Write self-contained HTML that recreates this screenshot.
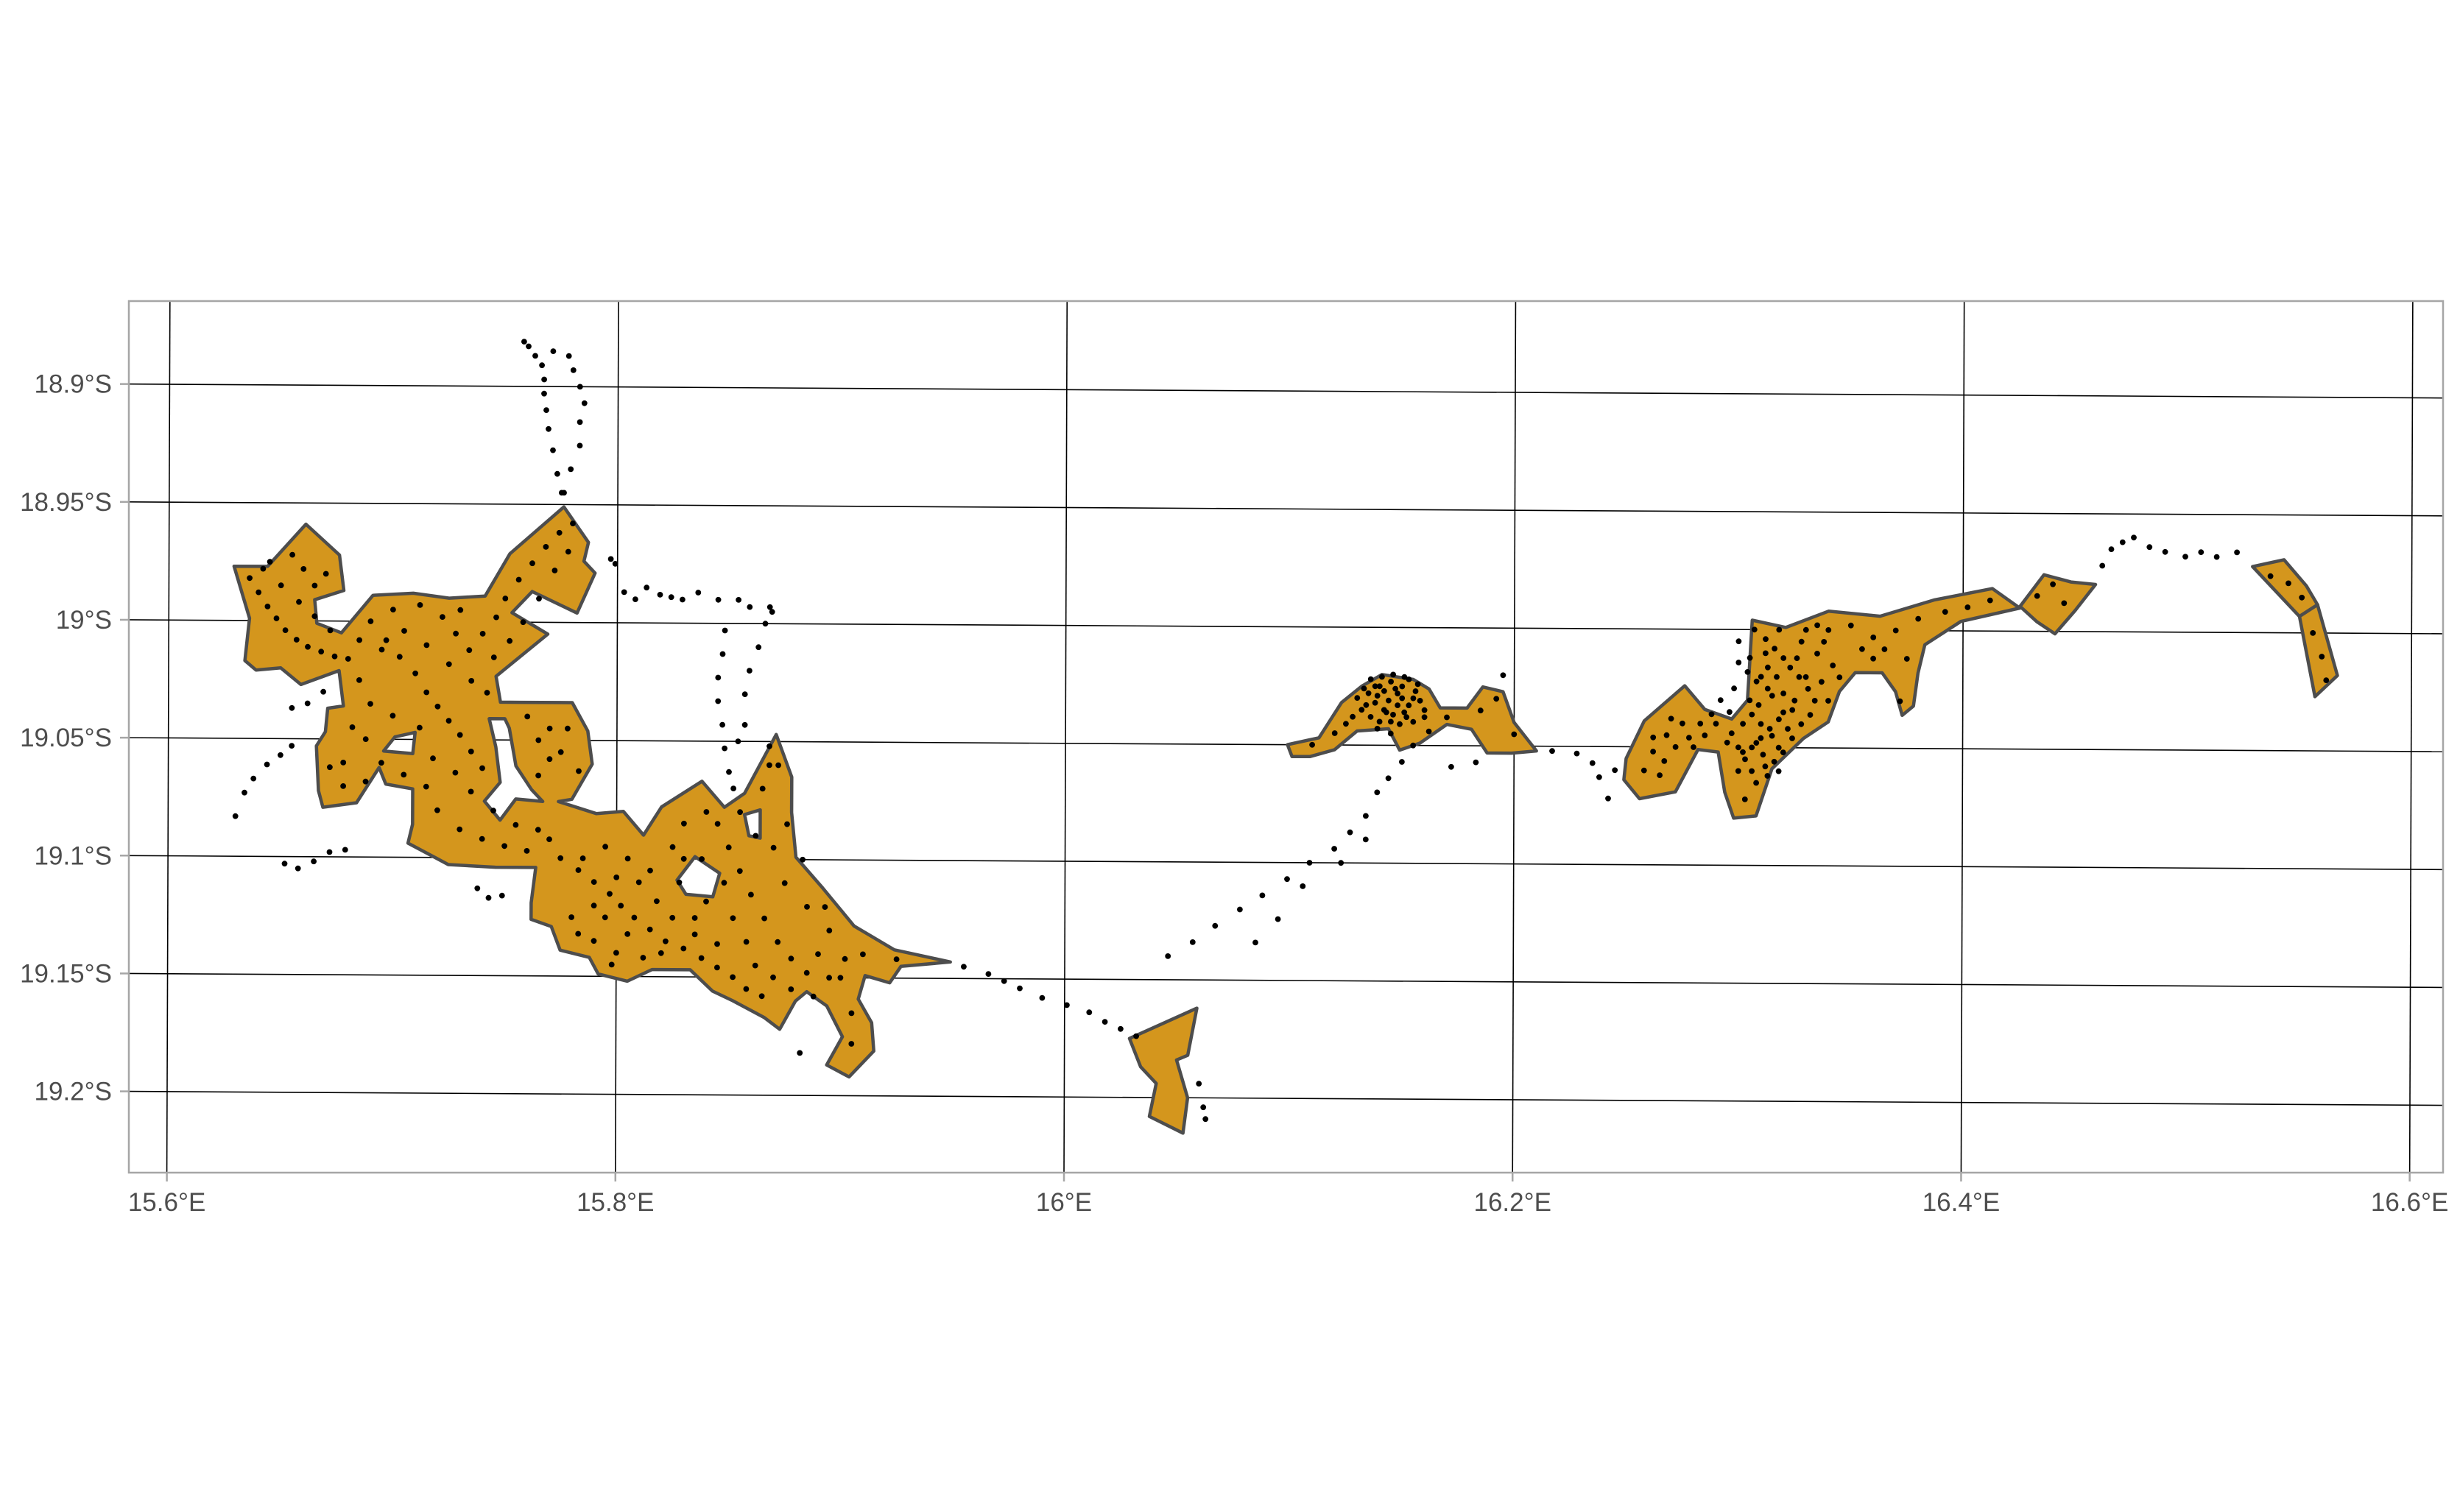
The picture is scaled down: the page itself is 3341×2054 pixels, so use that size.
<!DOCTYPE html>
<html>
<head>
<meta charset="utf-8">
<style>
html,body{margin:0;padding:0;background:#fff;}
svg{display:block;}
text{font-family:"Liberation Sans",Arial,sans-serif;fill:#4d4d4d;}
</style>
</head>
<body>
<svg id="chart" width="3341" height="2054" viewBox="0 0 3341 2054" xmlns="http://www.w3.org/2000/svg">
<defs><clipPath id="panelClip"><rect x="175" y="409" width="3143" height="1184"/></clipPath></defs>
<rect x="0" y="0" width="3341" height="2054" fill="#fff"/>
<g id="grid" clip-path="url(#panelClip)"></g>
<g id="polys" clip-path="url(#panelClip)"></g>
<g id="pts" clip-path="url(#panelClip)"></g>
<rect x="175" y="409" width="3143" height="1184" fill="none" stroke="#a6a6a6" stroke-width="2.5"/>
<g id="axes"></g>
</svg>
<script>
const lonTicks = [15.6, 15.8, 16.0, 16.2, 16.4, 16.6];
const lonLabels = ["15.6°E", "15.8°E", "16°E", "16.2°E", "16.4°E", "16.6°E"];
const latTicks = [18.9, 18.95, 19.0, 19.05, 19.1, 19.15, 19.2];
const latLabels = ["18.9°S", "18.95°S", "19°S", "19.05°S", "19.1°S", "19.15°S", "19.2°S"];

const polyWest = [[15.629,18.977],[15.644,18.977],[15.661,18.959],[15.676,18.972],[15.678,18.987],[15.665,18.991],[15.666,19.001],[15.677,19.005],[15.691,18.989],[15.709,18.988],[15.725,18.990],[15.741,18.989],[15.752,18.971],[15.776,18.951],[15.787,18.966],[15.785,18.974],[15.790,18.979],[15.782,18.996],[15.762,18.987],[15.753,18.996],[15.769,19.005],[15.746,19.023],[15.748,19.034],[15.757,19.034],[15.780,19.034],[15.787,19.046],[15.789,19.060],[15.780,19.075],[15.774,19.076],[15.791,19.081],[15.803,19.080],[15.812,19.090],[15.820,19.078],[15.838,19.067],[15.848,19.078],[15.857,19.072],[15.871,19.047],[15.878,19.065],[15.878,19.080],[15.880,19.099],[15.892,19.112],[15.906,19.128],[15.924,19.138],[15.949,19.143],[15.927,19.145],[15.922,19.152],[15.911,19.149],[15.908,19.159],[15.914,19.169],[15.915,19.181],[15.904,19.192],[15.894,19.187],[15.901,19.175],[15.894,19.162],[15.885,19.156],[15.880,19.160],[15.873,19.172],[15.866,19.167],[15.852,19.160],[15.843,19.156],[15.833,19.147],[15.816,19.147],[15.805,19.152],[15.792,19.149],[15.788,19.142],[15.775,19.139],[15.771,19.129],[15.762,19.126],[15.762,19.119],[15.764,19.104],[15.746,19.104],[15.725,19.103],[15.721,19.101],[15.707,19.094],[15.709,19.086],[15.709,19.071],[15.697,19.069],[15.694,19.062],[15.684,19.077],[15.669,19.079],[15.667,19.072],[15.666,19.053],[15.670,19.047],[15.671,19.037],[15.678,19.036],[15.676,19.021],[15.659,19.027],[15.650,19.020],[15.639,19.021],[15.634,19.017],[15.636,18.999]];
const holeA = [[15.696,19.055],[15.701,19.049],[15.710,19.047],[15.709,19.056]];
const holeB = [[15.827,19.109],[15.835,19.099],[15.846,19.106],[15.843,19.116],[15.831,19.115]];
const holeC = [[15.857,19.081],[15.864,19.079],[15.864,19.091],[15.859,19.090]];
const holeD = [[15.743,19.041],[15.750,19.041],[15.752,19.045],[15.755,19.061],[15.762,19.071],[15.767,19.076],[15.755,19.075],[15.748,19.084],[15.741,19.076],[15.748,19.068],[15.746,19.053]];
const polySouth = [[16.029,19.175],[16.059,19.162],[16.055,19.182],[16.050,19.184],[16.055,19.200],[16.053,19.215],[16.038,19.208],[16.041,19.194],[16.034,19.187]];
const polyMiddle = [[16.099,19.050],[16.113,19.047],[16.123,19.032],[16.132,19.025],[16.141,19.020],[16.155,19.022],[16.162,19.026],[16.167,19.034],[16.179,19.034],[16.186,19.025],[16.195,19.027],[16.200,19.040],[16.210,19.052],[16.199,19.053],[16.188,19.053],[16.181,19.043],[16.170,19.041],[16.158,19.049],[16.149,19.052],[16.144,19.043],[16.130,19.044],[16.120,19.052],[16.109,19.055],[16.101,19.055]];
const polyEast = [[16.250,19.055],[16.258,19.039],[16.276,19.024],[16.285,19.034],[16.297,19.038],[16.304,19.030],[16.306,18.996],[16.321,18.999],[16.340,18.992],[16.363,18.994],[16.387,18.987],[16.413,18.982],[16.425,18.990],[16.436,18.976],[16.448,18.979],[16.459,18.980],[16.450,18.991],[16.441,19.001],[16.433,18.996],[16.426,18.990],[16.399,18.996],[16.383,19.006],[16.380,19.018],[16.378,19.032],[16.373,19.036],[16.370,19.026],[16.364,19.018],[16.352,19.018],[16.345,19.026],[16.340,19.039],[16.329,19.046],[16.315,19.059],[16.308,19.079],[16.298,19.080],[16.294,19.069],[16.291,19.052],[16.282,19.051],[16.272,19.069],[16.256,19.072],[16.249,19.064]];
const polyFarTop = [[16.529,18.972],[16.543,18.969],[16.553,18.980],[16.558,18.988],[16.550,18.993]];
const polyFarLow = [[16.550,18.993],[16.558,18.988],[16.567,19.018],[16.557,19.027]];

const trailPts = [[15.758,18.881],[15.760,18.883],[15.763,18.887],[15.766,18.891],[15.767,18.897],[15.767,18.903],[15.768,18.910],[15.769,18.918],[15.771,18.927],[15.773,18.937],[15.775,18.945],[15.771,18.885],[15.778,18.887],[15.780,18.893],[15.783,18.900],[15.785,18.907],[15.783,18.915],[15.783,18.925],[15.779,18.935],[15.776,18.945],
[15.797,18.973],[15.799,18.975],[15.803,18.987],[15.808,18.990],[15.813,18.985],[15.819,18.988],[15.824,18.989],[15.829,18.990],[15.836,18.987],[15.845,18.990],[15.854,18.990],[15.859,18.993],[15.868,18.993],[15.869,18.995],
[15.848,19.003],[15.847,19.013],[15.845,19.023],[15.845,19.033],[15.847,19.043],[15.848,19.053],[15.850,19.063],[15.852,19.070],[15.866,19.000],[15.863,19.010],[15.859,19.020],[15.857,19.030],[15.857,19.043],[15.854,19.050],
[15.630,19.083],[15.634,19.073],[15.638,19.067],[15.644,19.061],[15.650,19.057],[15.655,19.053],[15.652,19.103],[15.658,19.105],[15.665,19.102],[15.672,19.098],[15.679,19.097],[15.655,19.037],[15.662,19.035],[15.669,19.030],
[15.738,19.113],[15.743,19.117],[15.749,19.116],[15.882,19.182],
[15.955,19.145],[15.966,19.148],[15.973,19.151],[15.980,19.154],[15.990,19.158],[16.001,19.161],[16.011,19.164],[16.018,19.168],[16.025,19.171],[16.032,19.174],
[16.060,19.194],[16.062,19.204],[16.063,19.209],
[16.046,19.140],[16.057,19.134],[16.067,19.127],[16.078,19.120],[16.088,19.114],[16.099,19.107],[16.109,19.100],[16.120,19.094],[16.127,19.087],[16.134,19.080],[16.139,19.070],[16.144,19.064],[16.150,19.057],[16.155,19.050],
[16.085,19.134],[16.095,19.124],[16.106,19.110],[16.123,19.100],[16.134,19.090],
[16.172,19.059],[16.183,19.057],[16.195,19.020],[16.217,19.052],[16.228,19.053],[16.235,19.057],[16.242,19.072],[16.238,19.063],[16.245,19.060],
[16.462,18.972],[16.466,18.965],[16.471,18.962],[16.476,18.960],[16.483,18.964],[16.490,18.966],[16.499,18.968],[16.506,18.966],[16.513,18.968],[16.522,18.966]];

const innerPts = [[15.636,18.982],[15.640,18.988],[15.644,18.994],[15.648,18.999],[15.652,19.004],[15.657,19.008],[15.662,19.011],[15.668,19.013],[15.674,19.015],[15.680,19.016],[15.655,18.972],[15.660,18.978],[15.665,18.985],[15.670,18.980],[15.645,18.975],
[15.690,19.000],[15.697,19.008],[15.703,19.015],[15.710,19.022],[15.715,19.030],[15.720,19.036],[15.725,19.042],[15.730,19.048],[15.735,19.055],[15.740,19.062],
[15.722,18.998],[15.728,19.005],[15.734,19.012],[15.740,19.005],[15.746,18.998],[15.750,18.990],[15.756,18.982],[15.762,18.975],[15.768,18.968],[15.774,18.962],[15.780,18.958],
[15.685,19.025],[15.690,19.035],[15.682,19.045],[15.678,19.060],[15.688,19.068],[15.700,19.040],[15.712,19.045],
[15.715,19.070],[15.720,19.080],[15.730,19.088],[15.740,19.092],[15.750,19.095],[15.760,19.097],[15.770,19.092],
[15.760,19.040],[15.765,19.050],[15.770,19.058],[15.778,19.045],[15.783,19.063],
[15.775,19.100],[15.783,19.105],[15.790,19.110],[15.797,19.115],[15.802,19.120],[15.808,19.125],[15.815,19.130],[15.822,19.135],[15.830,19.138],[15.838,19.142],[15.845,19.146],[15.852,19.150],[15.858,19.155],[15.865,19.158],
[15.780,19.125],[15.790,19.135],[15.800,19.140],[15.812,19.142],[15.795,19.095],[15.805,19.100],[15.815,19.105],[15.825,19.095],[15.830,19.085],[15.845,19.085],[15.850,19.095],[15.855,19.105],[15.860,19.115],[15.866,19.125],[15.872,19.135],[15.878,19.142],[15.885,19.148],[15.890,19.140],[15.895,19.130],[15.885,19.120],[15.875,19.110],[15.870,19.095],[15.865,19.070],[15.868,19.060],[15.825,19.125],[15.835,19.125],[15.840,19.118],[15.900,19.150],[15.905,19.165],[15.905,19.178],[15.910,19.140],[15.925,19.142],
[15.642,18.978],[15.650,18.985],[15.658,18.992],[15.665,18.998],[15.672,19.004],[15.685,19.008],[15.695,19.012],[15.705,19.004],[15.715,19.010],[15.725,19.018],[15.735,19.025],[15.742,19.030],[15.745,19.015],[15.752,19.008],[15.758,19.000],[15.765,18.990],[15.772,18.978],[15.778,18.970],[15.700,18.995],[15.712,18.993],[15.730,18.995],[15.688,19.050],[15.695,19.060],[15.705,19.065],[15.718,19.058],[15.728,19.064],[15.735,19.072],[15.745,19.080],[15.755,19.086],[15.765,19.088],[15.678,19.070],[15.672,19.062],[15.770,19.045],[15.775,19.055],[15.765,19.065],[15.785,19.100],[15.795,19.125],[15.805,19.132],[15.818,19.118],[15.828,19.110],[15.838,19.100],[15.848,19.110],[15.852,19.125],[15.858,19.135],[15.862,19.145],[15.870,19.150],[15.878,19.155],[15.888,19.158],[15.895,19.150],[15.902,19.142],[15.893,19.120],[15.883,19.100],[15.876,19.085],[15.862,19.090],[15.855,19.080],[15.840,19.080],[15.830,19.100],[15.810,19.110],[15.800,19.108],[15.790,19.120],[15.783,19.132],[15.798,19.145],[15.820,19.140],[15.835,19.132],[15.845,19.136],[15.872,19.060],[15.868,19.052],
[16.135,19.028],[16.140,19.025],[16.145,19.023],[16.150,19.025],[16.155,19.030],[16.148,19.033],[16.142,19.035],[16.138,19.032],[16.132,19.035],[16.152,19.038],[16.145,19.040],[16.160,19.035],[16.120,19.045],[16.110,19.050],[16.170,19.038],[16.185,19.035],[16.192,19.030],[16.200,19.045],[16.148,19.028],[16.153,19.022],
[16.130,19.030],[16.133,19.026],[16.136,19.022],[16.139,19.029],[16.142,19.027],[16.144,19.031],[16.147,19.026],[16.150,19.030],[16.153,19.033],[16.156,19.027],[16.158,19.031],[16.136,19.038],[16.140,19.040],[16.143,19.036],[16.146,19.037],[16.149,19.041],[16.151,19.036],[16.155,19.040],[16.134,19.033],[16.138,19.025],[16.141,19.021],[16.146,19.020],[16.151,19.021],[16.157,19.024],[16.160,19.038],[16.128,19.038],[16.125,19.041],[16.162,19.044],[16.145,19.045],[16.139,19.043],
[16.300,19.005],[16.305,19.012],[16.310,19.020],[16.315,19.028],[16.320,19.035],[16.322,19.042],[16.318,19.050],[16.312,19.058],[16.308,19.065],[16.303,19.072],[16.300,19.060],[16.295,19.048],[16.290,19.040],[16.285,19.045],[16.280,19.050],[16.275,19.040],[16.268,19.045],[16.262,19.052],[16.258,19.060],[16.265,19.062],[16.310,19.040],[16.315,19.045],[16.325,19.030],[16.330,19.020],[16.335,19.010],[16.328,19.005],[16.318,19.000],[16.312,19.010],[16.305,19.030],[16.298,19.025],[16.308,19.048],[16.302,19.052],[16.326,19.012],[16.340,19.000],[16.350,18.998],[16.360,19.003],[16.370,19.000],[16.380,18.995],[16.392,18.992],[16.402,18.990],[16.412,18.987],[16.360,19.012],[16.345,19.020],[16.372,19.030],[16.340,19.030],[16.433,18.985],[16.440,18.980],[16.445,18.988],[16.537,18.976],[16.545,18.979],[16.551,18.985],[16.556,19.000],[16.560,19.010],[16.562,19.020],
[16.307,19.000],[16.312,19.004],[16.316,19.008],[16.320,19.012],[16.323,19.016],[16.327,19.020],[16.331,19.025],[16.334,19.030],[16.332,19.036],[16.328,19.040],[16.324,19.046],[16.320,19.052],[16.316,19.056],[16.313,19.062],[16.306,19.060],[16.303,19.055],[16.300,19.050],[16.297,19.044],[16.302,19.040],[16.306,19.036],[16.309,19.032],[16.313,19.025],[16.317,19.020],[16.313,19.016],[16.308,19.022],[16.304,19.018],[16.300,19.014],[16.320,19.027],[16.324,19.034],[16.318,19.038],[16.314,19.042],[16.310,19.046],[16.306,19.050],[16.311,19.053],[16.318,19.060],[16.296,19.035],[16.292,19.030],[16.288,19.036],[16.283,19.040],[16.278,19.046],[16.272,19.050],[16.267,19.056],[16.262,19.046],[16.270,19.038],[16.337,19.022],[16.342,19.015],[16.338,19.005],[16.335,18.998],[16.330,19.000],[16.355,19.008],[16.365,19.008],[16.375,19.012]];

const NS = "http://www.w3.org/2000/svg";
function X(lon, lat){ return 230.4 + (lon-15.6)*3046 - (lat-18.9)*11.4; }
function Y(lon, lat){ return 522 + (lat-18.9)*3203 + (lon-15.6)*18.4; }
function mk(tag, attrs, parent){ const e=document.createElementNS(NS,tag); for(const k in attrs) e.setAttribute(k,attrs[k]); parent.appendChild(e); return e; }

const grid=document.getElementById('grid'), axes=document.getElementById('axes');
const lonL=15.56, lonR=16.64, latT=18.85, latB=19.25;
latTicks.forEach((lat,i)=>{
  const l=mk('line',{x1:X(lonL,lat),y1:Y(lonL,lat),x2:X(lonR,lat),y2:Y(lonR,lat),stroke:'#000','stroke-width':1.6},grid);
  
  
  const lonA=15.6+(175-230.4)/3046; const y=Y(lonA,lat);
  const t=mk('line',{x1:163,y1:y,x2:175,y2:y,stroke:'#a6a6a6','stroke-width':2.5},axes);
  
  
  const tx=mk('text',{x:152,y:y+12,'text-anchor':'end','font-size':35},axes);
  tx.textContent=latLabels[i];
  
  
});
lonTicks.forEach((lon,i)=>{
  const l=mk('line',{x1:X(lon,latT),y1:Y(lon,latT),x2:X(lon,latB),y2:Y(lon,latB),stroke:'#000','stroke-width':1.6},grid);
  
  
  const latA=18.9+(1593-522-(lon-15.6)*18.4)/3203; const x=X(lon,latA);
  const t=mk('line',{x1:x,y1:1593,x2:x,y2:1605,stroke:'#a6a6a6','stroke-width':2.5},axes);
  
  
  const tx=mk('text',{x:x,y:1645,'text-anchor':'middle','font-size':35},axes);
  tx.textContent=lonLabels[i];
  
  
});

const polys=document.getElementById('polys');
function ring(arr){ return 'M'+arr.map(p=>X(p[0],p[1]).toFixed(1)+','+Y(p[0],p[1]).toFixed(1)).join('L')+'Z'; }
const polyList=[['west-range',[polyWest,holeA,holeB,holeC,holeD]],['south-range',[polySouth]],['middle-range',[polyMiddle]],['east-range',[polyEast]],['far-east-range-top',[polyFarTop]],['far-east-range-bottom',[polyFarLow]]];
polyList.forEach(pl=>{
  const p=mk('path',{d:pl[1].map(ring).join(' '),fill:'#d4961d','fill-rule':'evenodd',stroke:'#4d4d4d','stroke-width':4.5,'stroke-linejoin':'round'},polys);
  
  
});

const pts=document.getElementById('pts');
trailPts.concat(innerPts).forEach(p=>{
  const c=mk('circle',{cx:X(p[0],p[1]).toFixed(1),cy:Y(p[0],p[1]).toFixed(1),r:3.9,fill:'#000'},pts);
  
  
});
</script>
</body>
</html>
